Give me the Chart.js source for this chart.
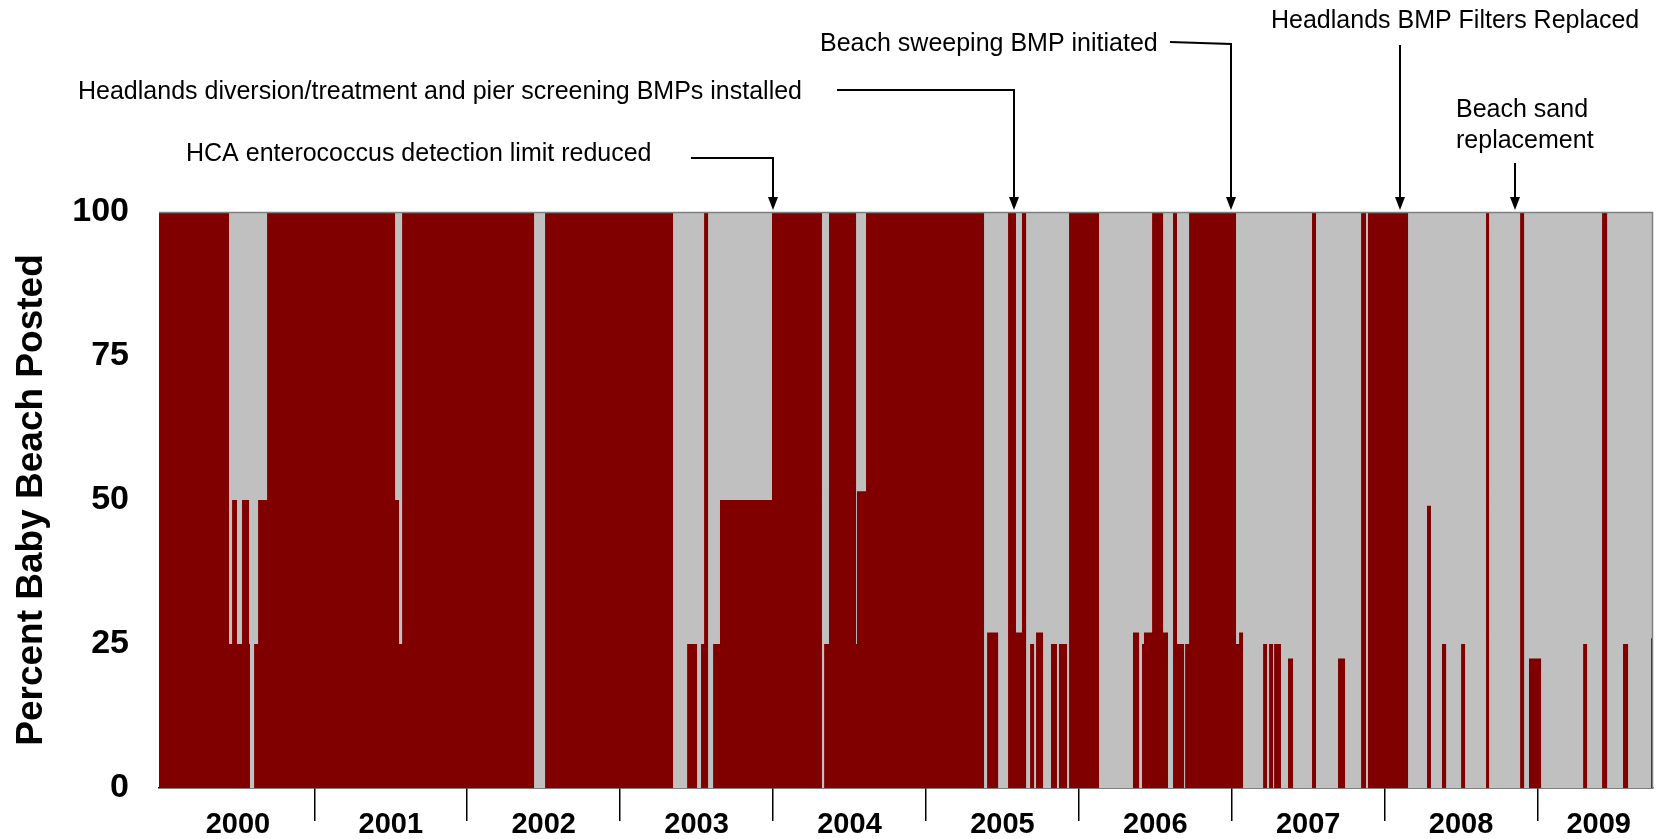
<!DOCTYPE html>
<html><head><meta charset="utf-8">
<script src="https://cdn.jsdelivr.net/npm/chart.js@4/dist/chart.umd.min.js"></script>
<style>html,body{margin:0;padding:0;background:#fff;overflow:hidden}#wrap{width:1659px;height:839px}</style>
</head><body><div id="wrap"><canvas id="c" width="1659" height="839"></canvas></div>
<script>
// ---- data (decimal year where the posting level changes, and the level from then on) ----
const changeYears = [1999.984, 2000.442, 2000.462, 2000.494, 2000.527, 2000.573, 2000.579, 2000.606, 2000.632, 2000.691,
  2001.528, 2001.554, 2001.574, 2002.437, 2002.509, 2003.346, 2003.438, 2003.503, 2003.529, 2003.549,
  2003.575, 2003.608, 2003.653, 2003.993, 2004.320, 2004.334, 2004.366, 2004.543, 2004.549, 2004.608,
  2005.380, 2005.400, 2005.472, 2005.537, 2005.589, 2005.628, 2005.655, 2005.681, 2005.707, 2005.720,
  2005.766, 2005.818, 2005.857, 2005.870, 2005.923, 2005.936, 2006.132, 2006.354, 2006.394, 2006.413,
  2006.426, 2006.479, 2006.551, 2006.583, 2006.616, 2006.642, 2006.688, 2006.695, 2006.721, 2007.028,
  2007.048, 2007.074, 2007.205, 2007.231, 2007.244, 2007.270, 2007.277, 2007.322, 2007.368, 2007.401,
  2007.525, 2007.551, 2007.695, 2007.741, 2007.846, 2007.878, 2007.891, 2008.153, 2008.277, 2008.303,
  2008.375, 2008.402, 2008.500, 2008.526, 2008.663, 2008.683, 2008.886, 2008.912, 2008.944, 2009.023,
  2009.298, 2009.324, 2009.422, 2009.455, 2009.559, 2009.592, 2009.742];
const postedPercent = [100, 25, 50, 25, 50, 25, 0, 25, 50, 100,
  50, 25, 100, 0, 100, 0, 25, 0, 25, 100,
  0, 25, 50, 100, 0, 25, 100, 25, 51.5, 100,
  0, 27, 0, 100, 27, 100, 0, 25, 0, 27,
  0, 25, 0, 25, 0, 100, 0, 27, 0, 25,
  27, 100, 27, 0, 100, 25, 0, 25, 100, 25,
  27, 0, 25, 0, 25, 0, 25, 0, 22.5, 0,
  100, 0, 22.5, 0, 100, 0, 100, 0, 49, 0,
  25, 0, 25, 0, 100, 0, 100, 0, 22.5, 0,
  25, 0, 100, 0, 25, 0, 26];
const startYear = 1999.984;
const endYear = 2009.755;
const yearBoundaries = [2001, 2002, 2003, 2004, 2005, 2006, 2007, 2008, 2009];
const yearLabels = ['2000', '2001', '2002', '2003', '2004', '2005', '2006', '2007', '2008', '2009'];
const yearLabelPositions = [2000.5, 2001.5, 2002.5, 2003.5, 2004.5, 2005.5, 2006.5, 2007.5, 2008.5, 2009.4];
const yTicks = [0, 25, 50, 75, 100];
const eventTexts = [
  ['HCA enterococcus detection limit reduced'],
  ['Headlands diversion/treatment and pier screening BMPs installed'],
  ['Beach sweeping BMP initiated'],
  ['Headlands BMP Filters Replaced'],
  ['Beach sand', 'replacement']
];
const eventYears = [2004.0, 2005.576, 2006.995, 2008.100, 2008.852];

// ---- styling / layout ----
const FONT = "'Liberation Sans', Arial, Helvetica, sans-serif";
const RED = '#800000';
const GRAY = '#C0C0C0';
// text anchor, leader start and label line positions (pixels)
const eventLayout = [
  {tx: 186, ty: [154], lead: [[691, 158], [null, 158]]},
  {tx: 78, ty: [92], lead: [[837, 90], [null, 90]]},
  {tx: 820, ty: [44], lead: [[1170, 42], [null, 44]]},
  {tx: 1271, ty: [21], lead: [[null, 45]]},
  {tx: 1456, ty: [110, 141], lead: [[null, 163]]}
];

const points = changeYears.map((x, i) => ({x: x, y: postedPercent[i]}));
points.push({x: endYear, y: postedPercent[postedPercent.length - 1]});

const bgPlugin = {
  id: 'bg',
  beforeDatasetsDraw(chart) {
    const {ctx, chartArea: a} = chart;
    ctx.save();
    ctx.fillStyle = GRAY;
    ctx.fillRect(a.left, a.top, a.right - a.left, a.bottom - a.top);
    ctx.restore();
  },
  afterDatasetsDraw(chart) {
    const {ctx, chartArea: a} = chart;
    ctx.save();
    ctx.strokeStyle = '#7f7f7f';
    ctx.lineWidth = 1.5;
    ctx.beginPath();
    ctx.moveTo(a.left, a.top + 0.5);
    ctx.lineTo(a.right - 0.5, a.top + 0.5);
    ctx.lineTo(a.right - 0.5, a.bottom);
    ctx.stroke();
    ctx.restore();
  }
};

const annotPlugin = {
  id: 'annot',
  afterDraw(chart) {
    const {ctx, chartArea: a, scales: {x}} = chart;
    ctx.save();
    ctx.fillStyle = '#000';
    ctx.strokeStyle = '#000';
    ctx.lineWidth = 2;
    ctx.font = '25px ' + FONT;
    ctx.textBaseline = 'middle';
    ctx.textAlign = 'left';
    eventTexts.forEach((lines, i) => {
      const L = eventLayout[i];
      lines.forEach((t, j) => ctx.fillText(t, L.tx, L.ty[j]));
      const ax = Math.round(x.getPixelForValue(eventYears[i]));
      const tipY = a.top - 2;
      const pts = L.lead.map(p => [p[0] === null ? ax : p[0], p[1]]);
      ctx.beginPath();
      ctx.moveTo(pts[0][0], pts[0][1]);
      for (let k = 1; k < pts.length; k++) ctx.lineTo(pts[k][0], pts[k][1]);
      ctx.lineTo(ax, tipY - 10);
      ctx.stroke();
      ctx.beginPath();
      ctx.moveTo(ax - 5, tipY - 13);
      ctx.lineTo(ax + 5, tipY - 13);
      ctx.lineTo(ax, tipY);
      ctx.closePath();
      ctx.fill();
    });
    ctx.restore();
  }
};

new Chart(document.getElementById('c'), {
  type: 'line',
  data: {
    datasets: [{
      data: points,
      stepped: 'before',
      fill: 'origin',
      backgroundColor: RED,
      borderColor: RED,
      borderWidth: 0,
      pointRadius: 0,
      pointHoverRadius: 0
    }]
  },
  options: {
    responsive: false,
    animation: false,
    devicePixelRatio: 1,
    layout: {padding: {top: 212, right: 6, left: 0, bottom: 0}},
    plugins: {legend: {display: false}, tooltip: {enabled: false}},
    scales: {
      x: {
        type: 'linear',
        min: startYear,
        max: endYear,
        afterBuildTicks: (s) => {
          const vals = yearBoundaries.concat(yearLabelPositions).sort((p, q) => p - q);
          s.ticks = vals.map(v => ({value: v}));
        },
        afterFit: (s) => { s.height = 51; },
        ticks: {
          autoSkip: false, maxRotation: 0, minRotation: 0, padding: -13, color: '#000',
          font: {family: FONT, size: 29, weight: 'bold'},
          callback: (v) => { const i = yearLabelPositions.indexOf(v); return i >= 0 ? yearLabels[i] : ''; }
        },
        grid: {
          display: true, drawOnChartArea: false, drawTicks: true, tickLength: 33, lineWidth: 1.5,
          tickColor: (c) => (c.tick && yearBoundaries.includes(c.tick.value)) ? '#000' : 'rgba(0,0,0,0)'
        },
        border: {display: true, color: '#000', width: 1.5}
      },
      y: {
        min: 0, max: 100,
        afterBuildTicks: (s) => { s.ticks = yTicks.map(v => ({value: v})); },
        afterFit: (s) => { s.width = 159; },
        ticks: {padding: 30, color: '#000', font: {family: FONT, size: 34, weight: 'bold'}},
        grid: {display: false, drawTicks: false},
        border: {display: false},
        title: {display: true, text: 'Percent Baby Beach Posted', color: '#000',
          font: {family: FONT, size: 37, weight: 'bold'}, padding: {top: 10, bottom: 0}}
      }
    }
  },
  plugins: [bgPlugin, annotPlugin]
});
</script>
</body></html>
